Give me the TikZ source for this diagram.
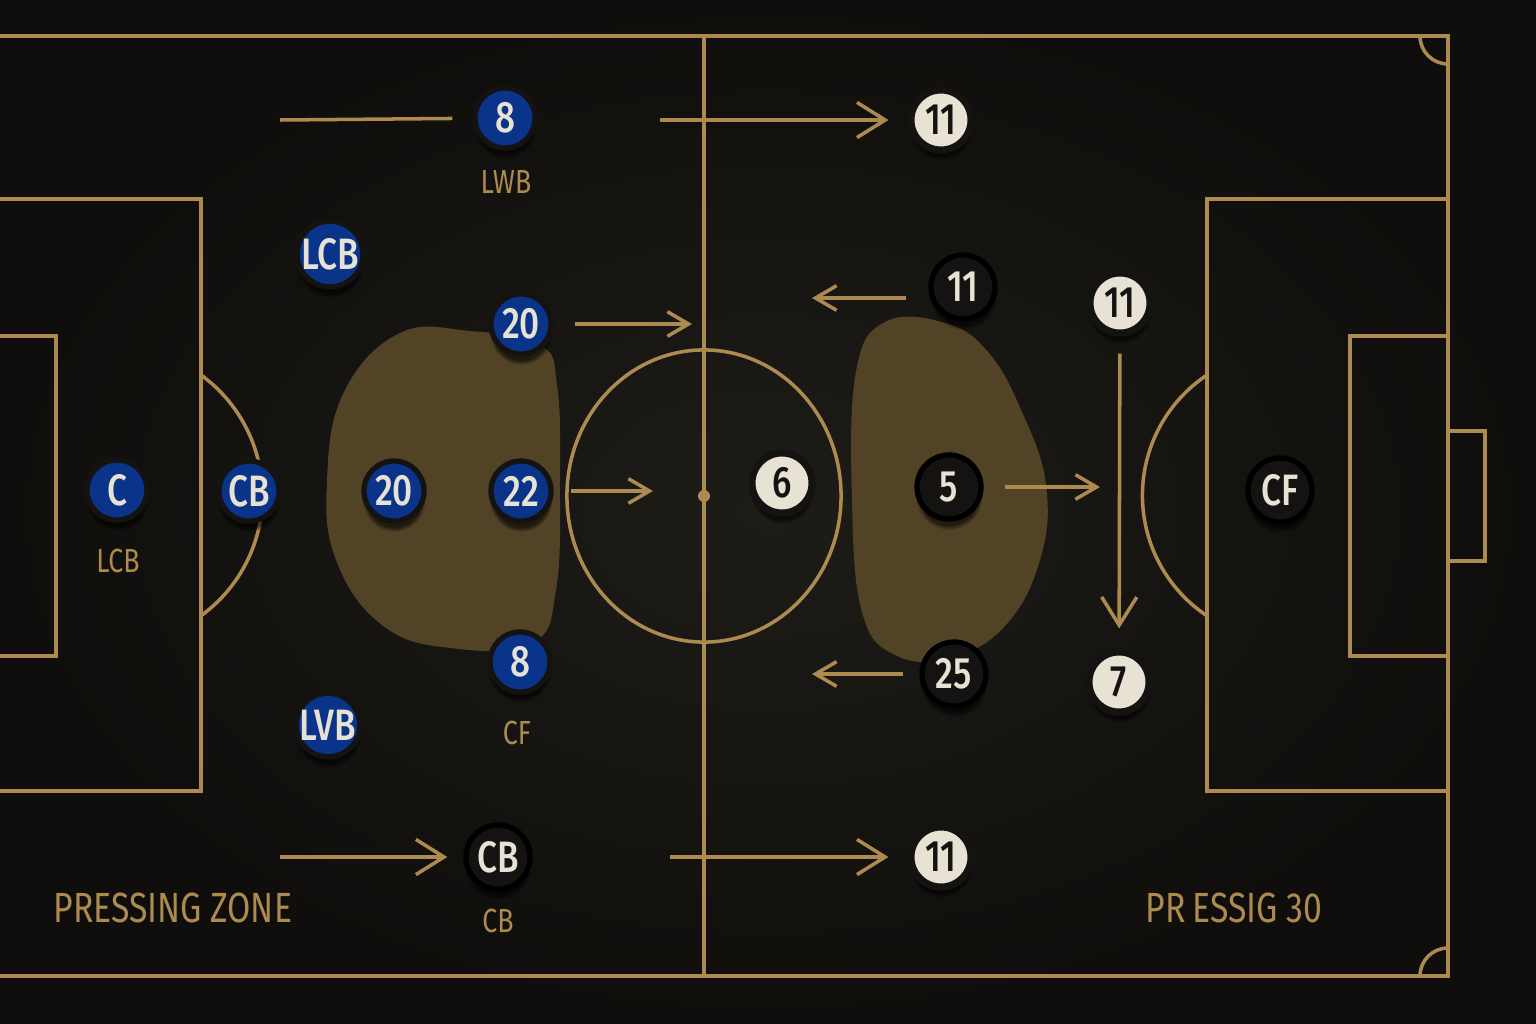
\documentclass[tikz,border=0pt]{standalone}
\usepackage{fontspec}
\setmainfont[FakeStretch=0.8]{Fira Sans}
\newfontfamily\discfont[FakeStretch=0.8]{Fira Sans Medium}
\usetikzlibrary{arrows.meta,shadows,positioning}
\definecolor{turf}{RGB}{30,28,23}
\definecolor{turfedge}{RGB}{15,14,12}
\definecolor{gold}{RGB}{172,138,80}
\definecolor{zone}{RGB}{82,67,38}
\definecolor{royal}{RGB}{10,52,138}
\definecolor{cream}{RGB}{232,226,212}
\definecolor{coal}{RGB}{20,19,17}
\tikzset{
  chalk/.style={draw=gold, line width=1pt},
  run/.style={chalk, -{Straight Barb[length=8pt,width=10pt]}},
  pass/.style={chalk, -{Straight Barb[length=6pt,width=7pt]}},
  disc/.style={circle, minimum size=0.6cm, inner sep=0pt, line width=1.5pt,
    circular drop shadow={shadow xshift=0pt, shadow yshift=-2.5pt, fill=black, opacity=0.6, shadow scale=1.05},
    font=\discfont\fontsize{12.5}{12.5}\selectfont},
  home/.style={disc, fill=royal, draw=coal, text=cream},
  away/.style={disc, fill=coal, draw=black, text=cream, minimum size=0.64cm},
  spare/.style={disc, fill=cream, draw=coal, text=coal, line width=2pt},
  tag/.style={text=gold, font=\fontsize{9.5}{9.5}\selectfont},
  caption/.style={text=gold, font=\fontsize{12}{12}\selectfont}
}
\begin{document}
\begin{tikzpicture}[x=0.01cm, y=-0.01cm]
    \shade[inner color=turf, outer color=turfedge] (0,0) rectangle (1536,1024);
    \useasboundingbox (0,0) rectangle (1536,1024);

    % pressing zones
    \fill[zone] plot[smooth cycle, tension=0.7] coordinates {(400,333) (470,331) (540,345) (557,385) (560,480) (556,590) (532,643) (450,648) (382,625) (336,560) (327,480) (344,392)};
    \fill[zone] plot[smooth cycle, tension=0.7] coordinates {(885,322) (945,323) (988,352) (1022,412) (1046,485) (1040,560) (1005,626) (950,658) (895,655) (862,612) (852,500) (856,372)};

    % pitch markings
    \draw[chalk] (0,36) -- (1448,36) -- (1448,976) -- (0,976);
    \draw[chalk] (704,36) -- (704,976);
    \draw[chalk] (704,496) ellipse [x radius=1.37cm, y radius=1.46cm];
    \fill[gold] (704,496) circle [radius=0.06cm];
    \draw[chalk] (0,199) -- (201,199) -- (201,791) -- (0,791);
    \draw[chalk] (0,336) -- (56,336) -- (56,656) -- (0,656);
    \draw[chalk] (201,375) arc[start angle=54.1, end angle=-54.1, radius=1.485cm];
    \draw[chalk] (1448,199) -- (1207,199) -- (1207,791) -- (1448,791);
    \draw[chalk] (1448,336) -- (1350,336) -- (1350,656) -- (1448,656);
    \draw[chalk] (1448,431) -- (1485,431) -- (1485,561) -- (1448,561);
    \draw[chalk] (1207,375) arc[start angle=123.6, end angle=236.4, radius=1.445cm];
    \draw[chalk] (1420,36) arc[start angle=180, end angle=270, radius=0.28cm];
    \draw[chalk] (1448,948) arc[start angle=90, end angle=180, radius=0.28cm];

    % blue side
    \node[home] (b8a) at (505,118) {8};
    \node[home] (blcb) at (330,254) {LCB};
    \node[home] (b20a) at (521,324) {20};
    \node[home] (bc) at (117,490) {C};
    \node[home] (bcb) at (249,491) {CB};
    \node[home] (b20b) at (394,491) {20};
    \node[home] (b22) at (521,491) {22};
    \node[home] (b8b) at (520,662) {8};
    \node[home] (blvb) at (328,725) {LVB};

    % dark side
    \node[away] (kcb) at (498,857) {CB};
    \node[away] (k11) at (963,287) {11};
    \node[away] (k5) at (949,487) {5};
    \node[away] (k25) at (954,674) {25};
    \node[away] (kcf) at (1280,490) {CF};

    % light side
    \node[spare] (c11a) at (941,120) {11};
    \node[spare] (c6) at (782,483) {6};
    \node[spare] (c11b) at (1120,303) {11};
    \node[spare] (c7) at (1119,682) {7};
    \node[spare] (c11c) at (941,857) {11};

    % labels
    \node[tag] (tlwb) at (506,182) {LWB};
    \node[tag] (tlcb) at (118,561) {LCB};
    \node[tag] (tcf) at (517,733) {CF};
    \node[tag] (tcb) at (498,921) {CB};
    \node[caption, anchor=west] (zl) at (41,908) {PRESSING ZONE};
    \node[caption, anchor=west] (zr) at (1133,908) {PR\hspace{2pt}ESSIG 30};

    % runs
    \coordinate (r1) at (280,120);
    \coordinate (r2) at (660,120);
    \coordinate (r3) at (692,324);
    \coordinate (r4) at (653,491);
    \coordinate (r5s) at (906,298);
    \coordinate (r5e) at (812,298);
    \coordinate (r6) at (1100,487);
    \coordinate (r7) at (812,674);
    \coordinate (r8) at (280,857);
    \coordinate (r9) at (670,857);
    \draw[chalk, shorten >=0.2cm] (r1) -- (b8a);
    \draw[run, shorten >=0.19cm] (r2) -- (c11a);
    \draw[pass, shorten <=0.21cm] (b20a) -- (r3);
    \draw[pass, shorten <=0.17cm] (b22) -- (r4);
    \draw[pass] (r5s) -- (r5e);
    \draw[pass, shorten <=0.21cm] (k5) -- (r6);
    \draw[run, shorten <=0.17cm, shorten >=0.2cm] (c11b) -- (c7);
    \draw[pass, shorten <=0.16cm] (k25) -- (r7);
    \draw[run, shorten >=0.16cm] (r8) -- (kcb);
    \draw[run, shorten >=0.19cm] (r9) -- (c11c);
\end{tikzpicture}
\end{document}
